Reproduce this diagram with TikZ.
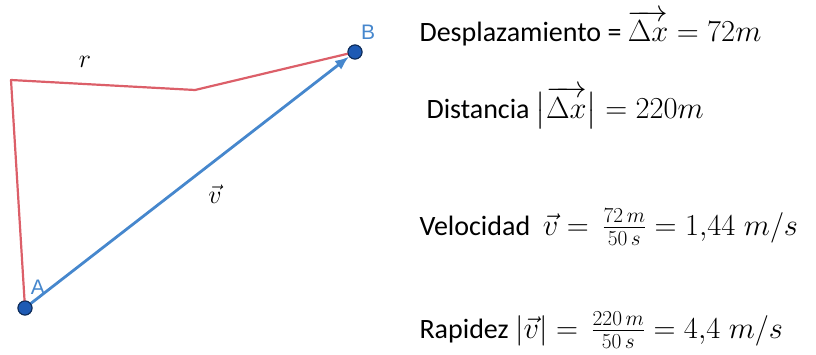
\documentclass[tikz,border=0pt]{standalone}
\usepackage{fix-cm}
\usepackage{amsmath,amssymb}
\usepackage{fontspec}
\setmainfont{Carlito}
\setsansfont{Liberation Sans}
\usetikzlibrary{arrows.meta,positioning}
\definecolor{pathred}{RGB}{220,95,105}
\definecolor{vecblue}{RGB}{70,135,205}
\definecolor{ptblue}{RGB}{30,90,180}
\newcommand{\mth}[1]{{\fontsize{30.5}{36}\selectfont$#1$}}
\tikzset{
 punto/.style={circle,fill=ptblue,draw=ptblue!50!black,line width=1pt,inner sep=0pt,minimum size=14pt},
 letra/.style={font=\sffamily\fontsize{21}{25}\selectfont,text=vecblue},
 etiq/.style={font=\fontsize{26}{30}\selectfont},
 linea/.style={anchor=base west,font=\fontsize{28}{33}\selectfont}
}

\begin{document}
\begin{tikzpicture}[>=Stealth,x=1pt,y=1pt]
\useasboundingbox (0,0) rectangle (816,354);
\coordinate (esq) at (11,274);
\coordinate (codo) at (195,264);
\node[punto] (A) at (25,46) {};
\node[punto] (B) at (355,302) {};
\draw[pathred,line width=2.2pt,line join=round] (A.center)--(esq)--(codo)--(B.center);
\draw[->,vecblue,line width=2.8pt,-{Latex[length=14pt,width=11pt]}] (A)--(B);
\node[punto] at (A) {};
\node[punto] at (B) {};
\node[letra] (lA) at (38,67) {A};
\node[letra] (lB) at (368,322) {B};
\node[etiq] (lr) at (85,292) {$r$};
\node[etiq] (lv) at (215,160) {$\vec{v}$};
% resultados
\node[linea] (desp) at (416,312)
 {Desplazamiento = \mth{\overrightarrow{\Delta x}=72m}};
\node[linea] (dist) at (423,236)
 {Distancia \mth{\bigl|\overrightarrow{\Delta x}\bigr|=220m}};
\node[linea] (vel) at (416,119)
 {Velocidad \ \mth{\vec{v}=\,\tfrac{72\,m}{50\,s}=1{,}44\;m/s}};
\node[linea] (rap) at (416,16)
 {Rapidez \mth{|\vec{v}|=\,\tfrac{220\,m}{50\,s}=4{,}4\;m/s}};
\end{tikzpicture}
\end{document}
